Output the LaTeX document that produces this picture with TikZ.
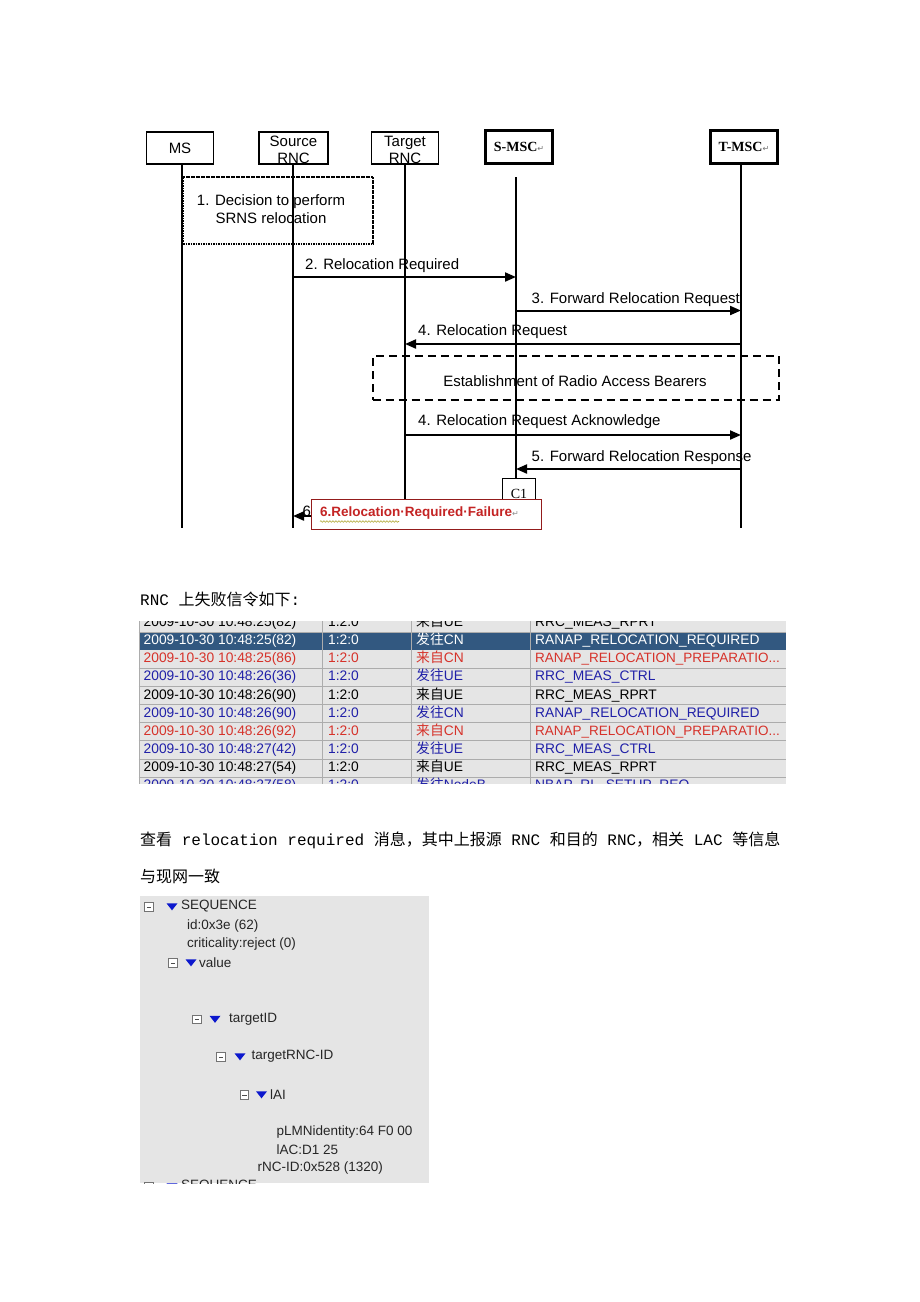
\documentclass[tikz,border=0pt]{standalone}
\usepackage{fontspec}
\setmainfont{Liberation Sans}
\setmonofont{Liberation Mono}
\newfontfamily\cjk{Noto Sans CJK SC}
\newfontfamily\dejavu{DejaVu Sans}
\newfontfamily\serifbf{Liberation Serif}
\usetikzlibrary{arrows.meta, shapes.geometric, decorations.pathmorphing}

\definecolor{rowred}{RGB}{214,50,42}
\definecolor{rowblue}{RGB}{32,32,168}
\definecolor{selrow}{RGB}{50,88,128}
\definecolor{panelgray}{RGB}{229,229,229}
\definecolor{gridgray}{RGB}{172,172,172}
\definecolor{failred}{RGB}{196,36,36}
\definecolor{treeblue}{RGB}{12,24,205}

\begin{document}
\begin{tikzpicture}[x=1pt, y=-1pt, >={Triangle[length=11pt,width=9pt]},
    actor/.style={draw, line width=1.5pt, minimum width=67pt, minimum height=32pt, inner sep=0pt,
      align=center, font=\fontsize{15}{16.5}\selectfont},
    heavy/.style={line width=2.5pt, minimum height=33pt},
    lifeline/.style={line width=2pt},
    msg/.style={->, line width=2pt},
    lbl/.style={anchor=west, inner sep=0pt, font=\fontsize{15}{17}\selectfont},
    cell/.style={anchor=west, inner sep=0pt, text height=10pt, text depth=3pt, font=\fontsize{13.8}{15}\selectfont},
    para/.style={anchor=west, inner sep=0pt, font=\fontsize{16}{18}\selectfont},
    tree/.style={anchor=west, inner sep=0pt, text=black!85, font=\fontsize{13.5}{15}\selectfont},
    minus/.style={draw=black!55, fill=white, minimum size=8.5pt, inner sep=0pt, line width=0.8pt,
      path picture={\draw[black!70, line width=0.8pt] ([xshift=2pt]path picture bounding box.west)
        -- ([xshift=-2pt]path picture bounding box.east);}},
    tri/.style={isosceles triangle, isosceles triangle stretches, shape border rotate=270,
      fill=treeblue, inner sep=0pt, minimum width=11pt, minimum height=7pt}]
    \useasboundingbox[fill=white] (0,0) rectangle (920,1302);

    \node[actor] (ms) at (180,148) {MS};
    \node[actor, minimum width=69pt] (src) at (293.5,148) {};
    \node[actor] (tgt) at (405,148) {};
    \node[align=center, inner sep=0pt, font=\fontsize{15}{16.5}\selectfont] (srcname) at (293.5,150) {Source\\RNC};
    \node[align=center, inner sep=0pt, font=\fontsize{15}{16.5}\selectfont] (tgtname) at (405,150) {Target\\RNC};
    \node[actor, heavy] (smsc) at (519,147) {{\serifbf\bfseries\fontsize{14}{16}\selectfont S-MSC}{\dejavu\fontsize{8}{8}\selectfont\color{black!55}↵}};
    \node[actor, heavy] (tmsc) at (744,147) {{\serifbf\bfseries\fontsize{14}{16}\selectfont T-MSC}{\dejavu\fontsize{8}{8}\selectfont\color{black!55}↵}};

    \coordinate (msL) at (182,164);
    \coordinate (srcL) at (293,164);
    \coordinate (tgtL) at (405,164);
    \coordinate (smscL) at (516,177);
    \coordinate (tmscL) at (741,164);
    \coordinate (bottom) at (0,528);

    \node[draw, line width=2pt, dash pattern=on 1.6pt off 0.9pt, minimum width=190pt, minimum height=67pt] (dec) at (278,210.5) {};
    \node[align=center, inner sep=0pt, font=\fontsize{15}{18}\selectfont] (dectext) at (271,209) {1. Decision to perform\\SRNS relocation};

    \coordinate (m2) at (0,277);
    \coordinate (m3) at (0,310.5);
    \coordinate (m4) at (0,344);
    \coordinate (m4b) at (0,435);
    \coordinate (m5) at (0,469);
    \coordinate (m6) at (0,516);

    \node[lbl] (l2) at (305,265.5) {2. Relocation Required};
    \node[lbl] (l3) at (531.5,300) {3. Forward Relocation Request};
    \node[lbl] (l4) at (418,332) {4. Relocation Request};
    \node[draw, line width=2pt, dash pattern=on 8pt off 5pt, minimum width=406pt, minimum height=44pt] (rab) at (575.7,378) {};
    \node[font=\fontsize{15}{17}\selectfont, inner sep=0pt] (rabtext) at (575,381.5) {Establishment of Radio Access Bearers};
    \node[lbl] (l4b) at (418,422) {4. Relocation Request Acknowledge};
    \node[lbl] (l5) at (531.5,458) {5. Forward Relocation Response};
    \node[draw, line width=1.3pt, minimum width=32.5pt, minimum height=30pt, anchor=north, inner sep=0pt,
      font=\serifbf\fontsize{14}{16}\selectfont] (c1) at (519,478) {C1};
    \node[lbl] (l6) at (302.5,511) {6};

    \draw[lifeline] (msL) -- (msL |- bottom);
    \draw[lifeline] (srcL) -- (srcL |- bottom);
    \draw[lifeline] (tgtL) -- (tgtL |- bottom);
    \draw[lifeline] (smscL) -- (smscL |- c1.north);
    \draw[lifeline] (tmscL) -- (tmscL |- bottom);

    \draw[msg] (srcL |- m2) -- (smscL |- m2);
    \draw[msg] (smscL |- m3) -- (tmscL |- m3);
    \draw[msg] (tmscL |- m4) -- (tgtL |- m4);
    \draw[msg] (tgtL |- m4b) -- (tmscL |- m4b);
    \draw[msg] (tmscL |- m5) -- (smscL |- m5);
    \draw[msg] (c1 |- m6) -- (srcL |- m6);

    \node[draw=failred!75!black, fill=white, line width=1pt, minimum width=230pt, minimum height=29.5pt,
      anchor=north west] (fail) at (311,499) {};
    \node[lbl, font=\bfseries\fontsize{13.5}{16}\selectfont, text=failred] (failtext) at (320,513)
      {6.Relocation·Required·Failure{\dejavu\mdseries\fontsize{8}{8}\selectfont\color{black!45}↵}};
    \coordinate (wv1) at (320,521.5);
    \coordinate (wv2) at (399,521.5);
    \draw[olive!70, line width=0.6pt, decorate, decoration={snake, amplitude=0.8pt, segment length=3pt}] (wv1) -- (wv2);

    \node[para] (p1) at (140,599) {\ttfamily RNC {\cjk 上失败信令如下}:};

    \fill[panelgray] (138.5,621) rectangle (786,783.5);
    \begin{scope}
      \clip (138.5,621) rectangle (786,783.5);
      \fill[selrow] (138.5,631.9) rectangle (786,650.1);
      \draw[gridgray, line width=0.8pt] (138.5,631.9) -- (786,631.9) (138.5,668.2) -- (786,668.2)
        (138.5,686.4) -- (786,686.4) (138.5,704.5) -- (786,704.5) (138.5,722.7) -- (786,722.7)
        (138.5,740.8) -- (786,740.8) (138.5,759) -- (786,759) (138.5,777.1) -- (786,777.1);
      \draw[gridgray, line width=0.8pt] (139,600) -- (139,800) (322.8,600) -- (322.8,800)
        (411.8,600) -- (411.8,800) (530.4,600) -- (530.4,800);

      \node[cell] (r0d) at (143.5,622.9) {2009-10-30 10:48:25(82)};
      \node[cell] (r0t) at (328,622.9) {1:2:0};
      \node[cell] (r0c) at (416,622.9) {{\cjk 来自}UE};
      \node[cell] (r0m) at (535,622.9) {RRC\_MEAS\_RPRT};

      \node[cell, text=white] (r1d) at (143.5,641) {2009-10-30 10:48:25(82)};
      \node[cell, text=white] (r1t) at (328,641) {1:2:0};
      \node[cell, text=white] (r1c) at (416,641) {{\cjk 发往}CN};
      \node[cell, text=white] (r1m) at (535,641) {RANAP\_RELOCATION\_REQUIRED};

      \node[cell, text=rowred] (r2d) at (143.5,659.2) {2009-10-30 10:48:25(86)};
      \node[cell, text=rowred] (r2t) at (328,659.2) {1:2:0};
      \node[cell, text=rowred] (r2c) at (416,659.2) {{\cjk 来自}CN};
      \node[cell, text=rowred, font=\fontsize{13.5}{15}\selectfont] (r2m) at (535,659.2) {RANAP\_RELOCATION\_PREPARATIO...};

      \node[cell, text=rowblue] (r3d) at (143.5,677.3) {2009-10-30 10:48:26(36)};
      \node[cell, text=rowblue] (r3t) at (328,677.3) {1:2:0};
      \node[cell, text=rowblue] (r3c) at (416,677.3) {{\cjk 发往}UE};
      \node[cell, text=rowblue] (r3m) at (535,677.3) {RRC\_MEAS\_CTRL};

      \node[cell] (r4d) at (143.5,695.5) {2009-10-30 10:48:26(90)};
      \node[cell] (r4t) at (328,695.5) {1:2:0};
      \node[cell] (r4c) at (416,695.5) {{\cjk 来自}UE};
      \node[cell] (r4m) at (535,695.5) {RRC\_MEAS\_RPRT};

      \node[cell, text=rowblue] (r5d) at (143.5,713.6) {2009-10-30 10:48:26(90)};
      \node[cell, text=rowblue] (r5t) at (328,713.6) {1:2:0};
      \node[cell, text=rowblue] (r5c) at (416,713.6) {{\cjk 发往}CN};
      \node[cell, text=rowblue] (r5m) at (535,713.6) {RANAP\_RELOCATION\_REQUIRED};

      \node[cell, text=rowred] (r6d) at (143.5,731.8) {2009-10-30 10:48:26(92)};
      \node[cell, text=rowred] (r6t) at (328,731.8) {1:2:0};
      \node[cell, text=rowred] (r6c) at (416,731.8) {{\cjk 来自}CN};
      \node[cell, text=rowred, font=\fontsize{13.5}{15}\selectfont] (r6m) at (535,731.8) {RANAP\_RELOCATION\_PREPARATIO...};

      \node[cell, text=rowblue] (r7d) at (143.5,749.9) {2009-10-30 10:48:27(42)};
      \node[cell, text=rowblue] (r7t) at (328,749.9) {1:2:0};
      \node[cell, text=rowblue] (r7c) at (416,749.9) {{\cjk 发往}UE};
      \node[cell, text=rowblue] (r7m) at (535,749.9) {RRC\_MEAS\_CTRL};

      \node[cell] (r8d) at (143.5,768.1) {2009-10-30 10:48:27(54)};
      \node[cell] (r8t) at (328,768.1) {1:2:0};
      \node[cell] (r8c) at (416,768.1) {{\cjk 来自}UE};
      \node[cell] (r8m) at (535,768.1) {RRC\_MEAS\_RPRT};

      \node[cell, text=rowblue] (r9d) at (143.5,786.2) {2009-10-30 10:48:27(58)};
      \node[cell, text=rowblue] (r9t) at (328,786.2) {1:2:0};
      \node[cell, text=rowblue] (r9c) at (416,786.2) {{\cjk 发往}NodeB};
      \node[cell, text=rowblue] (r9m) at (535,786.2) {NBAP\_RL\_SETUP\_REQ};
    \end{scope}

    \node[para] (p2) at (140,840) {{\cjk 查看}\texttt{ relocation required }{\cjk 消息，其中上报源}\texttt{ RNC }{\cjk 和目的}\texttt{ RNC}{\cjk ，相关}\texttt{ LAC }{\cjk 等信息}};
    \node[para] (p3) at (140,876) {\cjk 与现网一致};

    \fill[panelgray] (140,896) rectangle (429,1183);
    \begin{scope}
      \clip (140,896) rectangle (429,1183);
      \node[minus] (b1) at (149,907) {};
      \node[tri] (v1) at (172,906) {};
      \node[tree] (seq1) at (181,906.5) {SEQUENCE};
      \node[tree] (id) at (187,926) {id:0x3e (62)};
      \node[tree] (crit) at (187,944) {criticality:reject (0)};
      \node[minus] (b2) at (173,963) {};
      \node[tri] (v2) at (191,962) {};
      \node[tree] (val) at (199,962.5) {value};
      \node[minus] (b3) at (197,1019.5) {};
      \node[tri] (v3) at (215,1018.5) {};
      \node[tree] (tid) at (229,1019) {targetID};
      \node[minus] (b4) at (221,1057) {};
      \node[tri] (v4) at (240,1056) {};
      \node[tree] (trnc) at (251.5,1056.5) {targetRNC-ID};
      \node[minus] (b5) at (244.5,1095) {};
      \node[tri] (v5) at (261.5,1094) {};
      \node[tree] (lai) at (270,1094.5) {lAI};
      \node[tree] (plmn) at (276.5,1131.5) {pLMNidentity:64 F0 00};
      \node[tree] (lac) at (276.5,1149.5) {lAC:D1 25};
      \node[tree] (rnc) at (257.5,1167.5) {rNC-ID:0x528 (1320)};
      \node[minus] (b6) at (149,1187) {};
      \node[tri] (v6) at (172,1186) {};
      \node[tree] (seq2) at (181,1186.5) {SEQUENCE};
    \end{scope}
\end{tikzpicture}
\end{document}
